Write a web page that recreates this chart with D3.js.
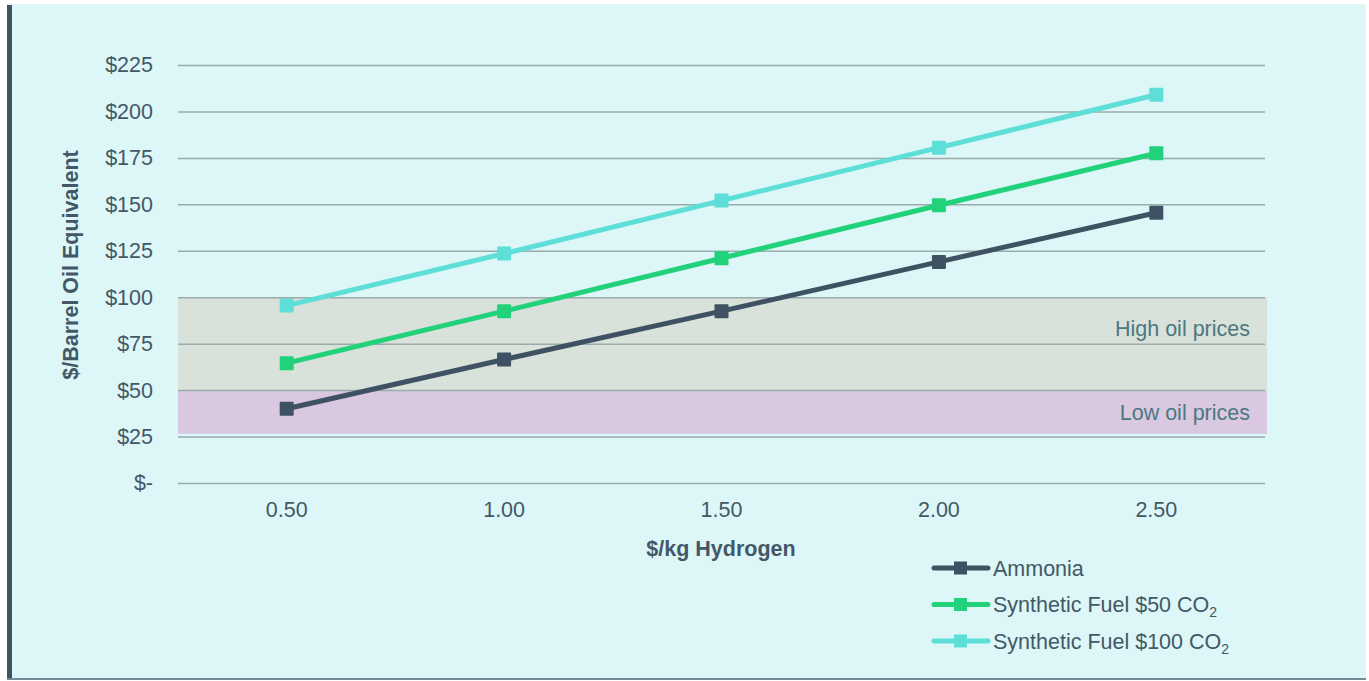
<!DOCTYPE html>
<html>
<head>
<meta charset="utf-8">
<script src="https://cdn.jsdelivr.net/npm/d3@7/dist/d3.min.js"></script>
<style>
  html, body { margin: 0; padding: 0; background: #ffffff; }
  svg { display: block; font-family: "Liberation Sans", Arial, sans-serif; }
</style>
</head>
<body>
<svg id="chart" width="1369" height="681"></svg>
<script>
// Hydrogen price (x) categories
const hydrogenPrices = ["0.50", "1.00", "1.50", "2.00", "2.50"];
// $/barrel oil equivalent for each product
const ammonia = [40, 66.5, 92.5, 119, 145.5];
const synFuel50 = [64.5, 92.5, 121, 149.5, 177.5];
const synFuel100 = [95.5, 123.5, 152, 180.5, 209];
// Y ticks
const yTicks = [0, 25, 50, 75, 100, 125, 150, 175, 200, 225];
const yTickLabels = ["$-", "$25", "$50", "$75", "$100", "$125", "$150", "$175", "$200", "$225"];
// Oil price reference bands [low, high]
const bandNames = ["High oil prices", "Low oil prices"];
const bandRanges = [[49.5, 100], [26.5, 49.5]];

const series = [
  { name: "Ammonia", values: ammonia, color: "#3f5263" },
  { name: "Synthetic Fuel $50 CO", sub: "2", values: synFuel50, color: "#22d27a" },
  { name: "Synthetic Fuel $100 CO", sub: "2", values: synFuel100, color: "#5ddfd8" }
];
const bandColors = ["#d8e1da", "#dac8e1"];

const svg = d3.select("#chart");
const textColor = "#435866";
const fontSize = 21.5;
const fontFamily = "'Liberation Sans', Arial, sans-serif";

// panel background and frame
svg.append("rect").attr("x", 7).attr("y", 4).attr("width", 1359).attr("height", 675).attr("fill", "#ddf6f7");
svg.append("rect").attr("x", 7).attr("y", 5).attr("width", 5).attr("height", 674).attr("fill", "#3f5363");
svg.append("rect").attr("x", 7).attr("y", 678).attr("width", 1359).attr("height", 2).attr("fill", "#718c96");

const plotLeft = 178, plotRight = 1265, plotTop = 65, plotBottom = 483;
const x = d3.scaleBand().domain(hydrogenPrices).range([plotLeft, plotRight]);
const y = d3.scaleLinear().domain([0, 225]).range([plotBottom, plotTop]);

// oil price bands
bandRanges.forEach((r, i) => {
  svg.append("rect")
    .attr("x", plotLeft).attr("width", plotRight - plotLeft + 2)
    .attr("y", y(r[1])).attr("height", y(r[0]) - y(r[1]))
    .attr("fill", bandColors[i]);
  svg.append("text")
    .attr("x", 1250).attr("y", (y(r[0]) + y(r[1])) / 2 + (i === 0 ? -16 : 0))
    .attr("dy", "0.35em")
    .attr("text-anchor", "end")
    .attr("font-size", fontSize)
    .attr("fill", "#4b7880")
    .text(bandNames[i]);
});

// gridlines and y labels
const yAxis = d3.axisLeft(y).tickValues(yTicks).tickSize(-(plotRight - plotLeft)).tickPadding(25)
  .tickFormat((d, i) => yTickLabels[i]);
const gy = svg.append("g").attr("transform", `translate(${plotLeft},0)`).call(yAxis);
gy.select(".domain").remove();
gy.selectAll(".tick line").attr("stroke", "#9aabab").attr("stroke-width", 1.5);
gy.selectAll(".tick text").attr("font-size", fontSize).attr("fill", textColor)
  .attr("font-family", fontFamily);

// x axis labels
const xAxis = d3.axisBottom(x).tickSize(0).tickPadding(19);
const gx = svg.append("g").attr("transform", `translate(0,${plotBottom})`).call(xAxis);
gx.select(".domain").remove();
gx.selectAll(".tick text").attr("font-size", fontSize).attr("fill", textColor)
  .attr("font-family", fontFamily);

// axis titles
svg.append("text").attr("x", 721).attr("y", 556).attr("text-anchor", "middle")
  .attr("font-size", fontSize).attr("font-weight", "bold").attr("fill", textColor).text("$/kg Hydrogen");
svg.append("text").attr("transform", "translate(78,265) rotate(-90)").attr("text-anchor", "middle")
  .attr("font-size", fontSize).attr("font-weight", "bold").attr("fill", textColor).text("$/Barrel Oil Equivalent");

// series lines and markers
const line = d3.line().x((d, i) => x(hydrogenPrices[i]) + x.bandwidth() / 2).y(d => y(d));
series.forEach(s => {
  svg.append("path").datum(s.values).attr("d", line)
    .attr("fill", "none").attr("stroke", s.color).attr("stroke-width", 5).attr("stroke-linejoin", "round");
  svg.selectAll(null).data(s.values).enter().append("rect")
    .attr("x", (d, i) => x(hydrogenPrices[i]) + x.bandwidth() / 2 - 7)
    .attr("y", d => y(d) - 7)
    .attr("width", 14).attr("height", 14).attr("rx", 1)
    .attr("fill", s.color);
});

// legend
const legend = svg.append("g");
series.forEach((s, i) => {
  const ly = 568 + i * 36.5;
  legend.append("line").attr("x1", 934).attr("x2", 988).attr("y1", ly).attr("y2", ly)
    .attr("stroke", s.color).attr("stroke-width", 5).attr("stroke-linecap", "round");
  legend.append("rect").attr("x", 954).attr("y", ly - 6.5).attr("width", 13).attr("height", 13).attr("fill", s.color);
  const t = legend.append("text").attr("x", 993).attr("y", ly).attr("dy", "0.35em")
    .attr("font-size", fontSize).attr("fill", textColor).text(s.name);
  if (s.sub) t.append("tspan").attr("font-size", 14).attr("dy", 5).text(s.sub);
});
</script>
</body>
</html>
